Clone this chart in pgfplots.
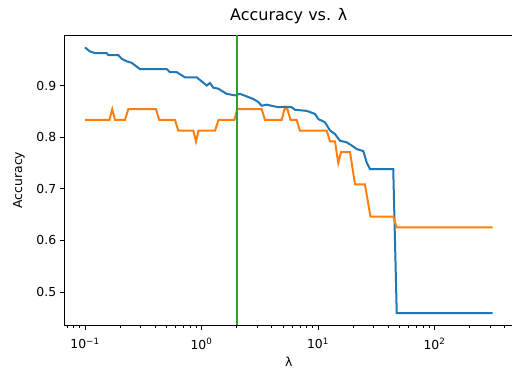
\documentclass[border=0pt]{standalone}
\usepackage{fontspec}
\setmainfont{DejaVu Sans}
\usepackage{pgfplots}
\pgfplotsset{compat=1.18}
\definecolor{mplblue}{HTML}{1F77B4}
\definecolor{mplorange}{HTML}{FF7F0E}
\definecolor{mplgreen}{HTML}{2CA02C}
\begin{document}
\begin{tikzpicture}
\begin{axis}[name=ax, scale only axis, width=448.5bp, height=290bp,
  xmode=log, xmin=0.0667, xmax=472, ymin=0.436, ymax=0.998,
  xtick={0.1,1,10,100},
  xticklabels={10\textsuperscript{−1},10\textsuperscript{0},10\textsuperscript{1},10\textsuperscript{2}},
  minor xtick={0.07,0.08,0.09,0.2,0.3,0.4,0.5,0.6,0.7,0.8,0.9,2,3,4,5,6,7,8,9,20,30,40,50,60,70,80,90,200,300,400},
  ytick={0.5,0.6,0.7,0.8,0.9},
  yticklabel style={/pgf/number format/fixed,/pgf/number format/precision=1},
  /pgf/number format/assume math mode=true,
  tick align=outside, tick pos=left,
  major tick length=4.8bp, minor tick length=2.7bp,
  axis line style={line width=0.9bp},
  every tick/.style={black, line width=0.9bp},
  minor tick style={line width=0.7bp},
  tick label style={font=\fontsize{12.4bp}{14bp}\selectfont},
  xticklabel style={yshift=-5bp},
  title={Accuracy vs. λ},
  title style={at={(axis description cs:0.5,1)}, anchor=base, yshift=8.5bp, font=\fontsize{16bp}{18bp}\selectfont},
  xlabel={λ},
  x label style={at={(axis description cs:0.5,0)}, anchor=base, yshift=-41bp, font=\fontsize{12.4bp}{14bp}\selectfont},
  ylabel={Accuracy},
  y label style={at={(axis description cs:-0.1015,0.5)}, anchor=center, font=\fontsize{12.4bp}{14bp}\selectfont},
]
\addplot[mplblue, line width=2bp] coordinates {
(0.1,0.974) (0.1104,0.966) (0.1219,0.963) (0.1535,0.963) (0.1585,0.959) (0.1932,0.959)
(0.2065,0.952) (0.2280,0.947) (0.2518,0.944) (0.2965,0.932) (0.5023,0.932) (0.5370,0.926)
(0.6124,0.926) (0.7211,0.916) (0.9099,0.916) (1.109,0.900) (1.183,0.905) (1.262,0.896)
(1.393,0.894) (1.644,0.884) (1.941,0.881) (2.138,0.884) (2.443,0.879) (2.786,0.874)
(3.076,0.868) (3.289,0.861) (3.631,0.863) (4.560,0.858) (5.212,0.859) (5.943,0.858)
(6.353,0.853) (7.998,0.851) (9.419,0.845) (10.07,0.835) (11.48,0.829) (12.68,0.813)
(14.00,0.806) (15.45,0.793) (17.62,0.790) (19.45,0.784) (21.48,0.777) (23.71,0.774)
(24.49,0.773) (26.18,0.751) (27.93,0.738) (44.26,0.738) (47.42,0.459) (316.2,0.459)
};
\addplot[mplorange, line width=2bp] coordinates {
(0.1,0.8333) (0.1618,0.8333) (0.1714,0.8542) (0.1811,0.8333) (0.2203,0.8333) (0.2355,0.8542)
(0.4064,0.8542) (0.4345,0.8333) (0.5929,0.8333) (0.6324,0.8125) (0.8511,0.8125) (0.8974,0.7917)
(0.9419,0.8125) (1.306,0.8125) (1.400,0.8333) (1.914,0.8333) (2.028,0.8542) (3.289,0.8542)
(3.508,0.8333) (4.875,0.8333) (5.152,0.8542) (5.470,0.8542) (5.808,0.8333) (6.561,0.8333)
(6.998,0.8125) (11.89,0.8125) (12.68,0.7917) (14.00,0.7917) (14.93,0.75) (15.74,0.7708)
(18.84,0.7708) (20.80,0.7083) (25.29,0.7083) (28.25,0.6458) (44.26,0.6458) (47.42,0.625)
(316.2,0.625)
};
\addplot[mplgreen, line width=2bp] coordinates {(2,0.436) (2,0.998)};
\end{axis}
\pgfresetboundingbox
\path[use as bounding box] ([shift={(-64.5bp,-44bp)}]ax.south west) rectangle ([shift={(-1bp,35bp)}]ax.north east);
\end{tikzpicture}
\end{document}
